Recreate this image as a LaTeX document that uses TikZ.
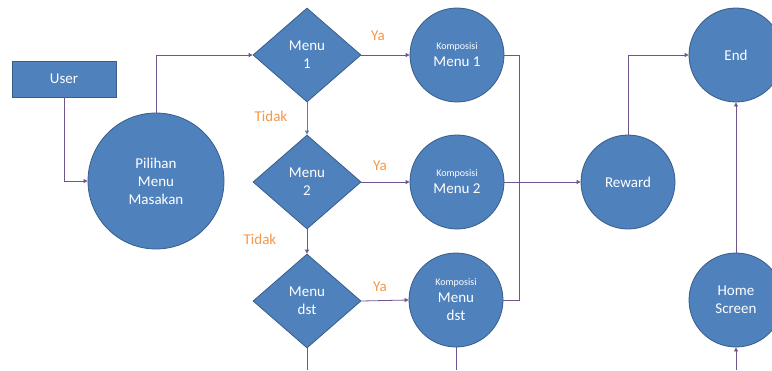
\documentclass[tikz,border=0pt]{standalone}
\usepackage{fontspec}
\setmainfont{Carlito}
\usetikzlibrary{shapes.geometric,arrows.meta}
\definecolor{boxfill}{RGB}{79,129,189}
\definecolor{boxline}{RGB}{56,93,138}
\definecolor{conn}{RGB}{112,84,142}
\definecolor{connblue}{RGB}{79,129,189}
\definecolor{lbl}{RGB}{247,150,70}
\begin{document}
\begin{tikzpicture}[x=1pt,y=-1pt,
  base/.style={fill=boxfill,draw=boxline,line width=0.8pt,text=white,align=center,inner sep=0pt,
    font=\fontsize{15}{18}\selectfont},
  rectbox/.style={base,rectangle,minimum width=104pt,minimum height=36pt},
  circbox/.style={base,circle,minimum size=#1},
  decision/.style={base,diamond,minimum width=108pt,minimum height=94pt},
  conline/.style={draw=conn,line width=0.8pt},
  arr/.style={conline,-{Triangle[length=4pt,width=4pt]}},
  lab/.style={text=lbl,font=\fontsize{15}{18}\selectfont,inner sep=0pt},
  small/.style={font=\fontsize{10}{12}\selectfont}]
\useasboundingbox (0,0) rectangle (772,370);
\begin{scope}
\clip (0,0) rectangle (772,370);
\node[rectbox] (user) at (64,79) {User};
\node[circbox=136pt] (pil) at (156,181) {Pilihan\\Menu\\Masakan};
\node[decision] (m1) at (307,55) {Menu\\1};
\node[decision] (m2) at (307,182) {Menu\\2};
\node[decision] (m3) at (307,301) {Menu\\dst};
\node[circbox=94pt] (k1) at (457,55) {{\fontsize{10}{12}\selectfont Komposisi}\\[-1pt]Menu 1};
\node[circbox=94pt] (k2) at (457,182) {{\fontsize{10}{12}\selectfont Komposisi}\\[-1pt]Menu 2};
\node[circbox=94pt] (k3) at (456,300) {{\fontsize{10}{12}\selectfont Komposisi}\\[-1pt]Menu\\dst};
\node[circbox=94pt] (rew) at (628,182) {Reward};
\node[circbox=94pt] (end) at (736,55) {End};
\node[circbox=94pt] (home) at (736,300) {Home\\Screen};

\coordinate (j1) at (519,55);
\coordinate (j3) at (519,300);
\coordinate (b3) at (307,370);
\coordinate (bk3) at (456,370);
\coordinate (bh) at (736,370);

\draw[arr] (user.south) |- (pil.west);
\draw[arr] (pil.north) |- (m1.west);
\draw[conline,draw=connblue,-{Triangle[length=4pt,width=4pt]}] (m1.south) -- (m2.north);
\draw[arr] (m2.south) -- (m3.north);
\draw[conline] (m3.south) -- (b3);
\draw[arr] (m1.east) -- (k1.west);
\draw[arr] (m2.east) -- (k2.west);
\draw[arr] (m3.east) -- (k3.west);
\draw[conline] (k1.east) -- (j1) -- (j3) -- (k3.east);
\draw[arr] (k2.east) -- (rew.west);
\draw[conline] (k3.south) -- (bk3);
\draw[arr] (rew.north) |- (end.west);
\draw[arr] (home.north) -- (end.south);
\draw[arr] (bh) -- (home.south);

\node[lab] (ya1) at (378,36) {Ya};
\node[lab] (ya2) at (380,166) {Ya};
\node[lab] (ya3) at (380,287) {Ya};
\node[lab] (t1) at (271,116) {Tidak};
\node[lab] (t2) at (260,239) {Tidak};
\end{scope}
\end{tikzpicture}
\end{document}
